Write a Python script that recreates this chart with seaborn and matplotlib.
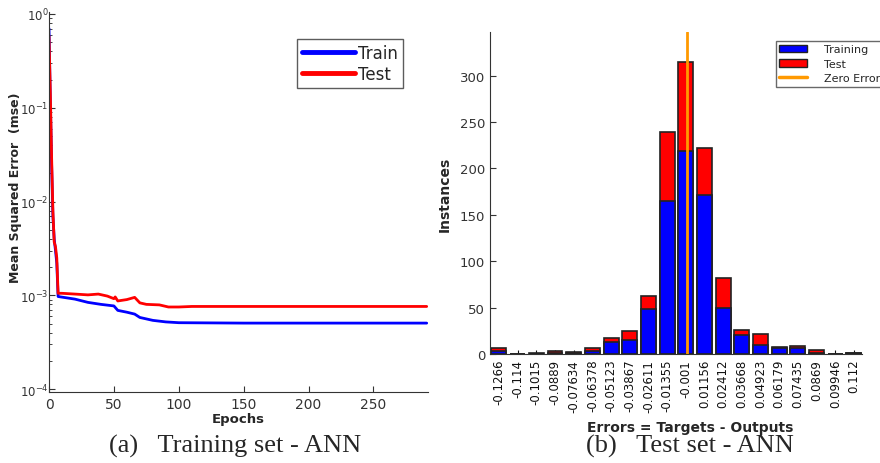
import numpy as np
import pandas as pd
import matplotlib
matplotlib.use("Agg")
import matplotlib.pyplot as plt
import seaborn as sns
from matplotlib.patches import Patch
from matplotlib.lines import Line2D

# (a) training performance curves
train_epochs = [0, 1, 2, 3, 4, 5, 6, 7, 20, 30, 40, 50, 53, 60, 66, 70, 80, 90, 100, 150, 291]
train_mse = [0.70, 0.12, 0.025, 0.007, 0.004, 0.003, 0.0022, 0.00097, 0.00091, 0.00084,
             0.00080, 0.00077, 0.00069, 0.00066, 0.00063, 0.00058, 0.00054, 0.00052,
             0.00051, 0.000505, 0.000505]
test_epochs = [0, 1, 2, 3, 4, 5, 6, 7, 10, 20, 30, 38, 45, 50, 51, 53, 60, 66, 70, 75, 85,
               92, 100, 110, 291]
test_mse = [0.58, 0.15, 0.03, 0.008, 0.0037, 0.0033, 0.0025, 0.00105, 0.00105, 0.00103,
            0.00101, 0.00103, 0.00098, 0.00092, 0.00096, 0.00087, 0.00090, 0.00095,
            0.00083, 0.00080, 0.00079, 0.00075, 0.00075, 0.00076, 0.00076]

# (b) error histogram
bin_labels = ["-0.1266", "-0.114", "-0.1015", "-0.0889", "-0.07634", "-0.06378", "-0.05123",
              "-0.03867", "-0.02611", "-0.01355", "-0.001", "0.01156", "0.02412", "0.03668",
              "0.04923", "0.06179", "0.07435", "0.0869", "0.09946", "0.112"]
train_counts = [3, 0, 0, 1, 1, 3, 13, 15, 49, 165, 219, 171, 50, 21, 10, 6, 7, 1, 0, 1]
test_counts = [3, 0, 1, 2, 1, 4, 4, 10, 13, 74, 96, 51, 32, 5, 12, 2, 2, 3, 0, 0]

sns.set_style("ticks")
plt.rcParams["font.family"] = ["DejaVu Sans"]

fig = plt.figure(figsize=(8.8, 4.64), dpi=100)
ax1 = fig.add_axes([49 / 880, 1 - 393 / 464, 379 / 880, 380 / 464])
ax2 = fig.add_axes([490 / 880, 1 - 355 / 464, 372 / 880, 322 / 464])

# left panel
df_tr = pd.DataFrame({"epoch": train_epochs, "mse": train_mse})
df_te = pd.DataFrame({"epoch": test_epochs, "mse": test_mse})
sns.lineplot(data=df_tr, x="epoch", y="mse", color="#0000ff", lw=2, ax=ax1)
sns.lineplot(data=df_te, x="epoch", y="mse", color="#ff0000", lw=2, ax=ax1)
ax1.set_yscale("log")
ax1.set_ylim(9.3e-5, 1.05)
ax1.set_xlim(0, 292)
ax1.set_xticks([0, 50, 100, 150, 200, 250])
ax1.set_yticks([1e-4, 1e-3, 1e-2, 1e-1, 1e0])
ax1.tick_params(axis="x", direction="in", labelsize=10, colors="#333333", length=4)
ax1.tick_params(axis="y", direction="in", labelsize=8.5, colors="#333333", length=4, pad=0.5)
ax1.tick_params(which="minor", direction="in", length=2)
ax1.set_xlabel("Epochs", fontweight="bold", fontsize=9.5, labelpad=1)
ax1.set_ylabel("Mean Squared Error  (mse)", fontweight="bold", fontsize=9, labelpad=1)
ax1.yaxis.set_label_coords(-0.07, 0.54)
for s in ["left", "bottom"]:
    ax1.spines[s].set_color("#333333")
sns.despine(ax=ax1)
leg1 = ax1.legend(handles=[Line2D([], [], color="#0000ff", lw=3.5),
                           Line2D([], [], color="#ff0000", lw=3.5)],
                  labels=["Train", "Test"], loc="upper right",
                  bbox_to_anchor=(0.935, 0.93), fontsize=12, fancybox=False,
                  edgecolor="#333333", handlelength=3.2, handletextpad=0.2,
                  borderpad=0.3, labelspacing=0.2, borderaxespad=0)
leg1.get_frame().set_linewidth(1.0)

# right panel: stacked bars
df_h = pd.DataFrame({"bin": bin_labels,
                     "train": train_counts,
                     "total": [a + b for a, b in zip(train_counts, test_counts)]})
sns.barplot(data=df_h, x="bin", y="total", color="#ff0000", edgecolor="#222222",
            linewidth=1.2, width=0.8, saturation=1, ax=ax2)
sns.barplot(data=df_h, x="bin", y="train", color="#0000ff", edgecolor="#222222",
            linewidth=1.2, width=0.8, saturation=1, ax=ax2)
zero_pos = 10 + 0.001 / 0.01256
ax2.axvline(zero_pos, color="#ff9900", lw=2)
ax2.set_xlim(-0.48, 19.43)
ax2.set_ylim(0, 347)
ax2.set_yticks([0, 50, 100, 150, 200, 250, 300])
ax2.tick_params(axis="y", direction="in", labelsize=9.5, colors="#333333", length=4)
ax2.tick_params(axis="x", direction="in", labelsize=8.5, colors="#111111", length=3,
                labelrotation=90)
ax2.set_xlabel("Errors = Targets - Outputs", fontweight="bold", fontsize=10, labelpad=0)
ax2.xaxis.set_label_coords(0.538, -0.205)
ax2.set_ylabel("Instances", fontweight="bold", fontsize=10, labelpad=6)
for s in ["left", "bottom"]:
    ax2.spines[s].set_color("#333333")
sns.despine(ax=ax2)
leg2 = ax2.legend(handles=[Patch(facecolor="#0000ff", edgecolor="#222222"),
                           Patch(facecolor="#ff0000", edgecolor="#222222"),
                           Line2D([], [], color="#ff9900", lw=2.5)],
                  labels=["Training", "Test", "Zero Error"], loc="upper left",
                  bbox_to_anchor=(0.769, 0.972), fontsize=8, fancybox=False,
                  edgecolor="#444444", handlelength=2.5, handletextpad=1.5,
                  borderpad=0.3, labelspacing=0.4, borderaxespad=0)
leg2.get_frame().set_linewidth(1.0)

# captions
fig.text(235 / 880, 1 - 446 / 464, "(a)   Training set - ANN", ha="center", va="center",
         fontsize=19, family=["Liberation Serif"])
fig.text(690 / 880, 1 - 446 / 464, "(b)   Test set - ANN", ha="center", va="center",
         fontsize=19, family=["Liberation Serif"])

fig.savefig("out.png", dpi=100)
